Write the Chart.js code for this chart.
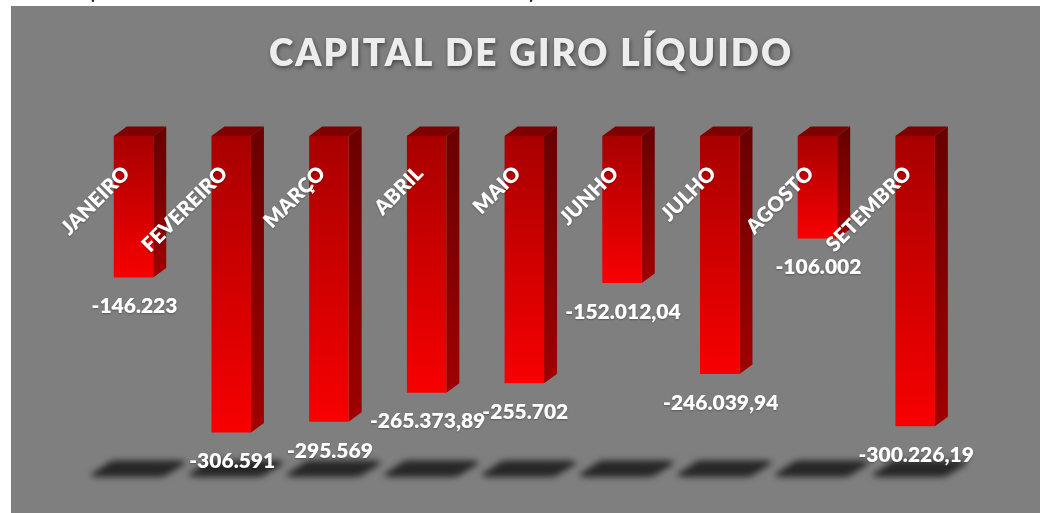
<!DOCTYPE html>
<html><head><meta charset="utf-8">
<style>html,body{margin:0;padding:0;background:#fff;overflow:hidden}#w{position:absolute;left:0;top:0;width:1048px;height:513px}</style>
<script src="https://cdn.jsdelivr.net/npm/chart.js@4"></script>
</head><body><div id="w"><canvas id="c" width="1048" height="513"></canvas></div>
<script>
const titleText = "CAPITAL DE GIRO LÍQUIDO";
const categories = ["JANEIRO","FEVEREIRO","MARÇO","ABRIL","MAIO","JUNHO","JULHO","AGOSTO","SETEMBRO"];
const values = [-146223,-306591,-295569,-265373.89,-255702,-152012.04,-246039.94,-106002,-300226.19];
const valueLabels = ["-146.223","-306.591","-295.569","-265.373,89","-255.702","-152.012,04","-246.039,94","-106.002","-300.226,19"];
const FONT = 'Lato, Carlito, sans-serif';
const DX = 13, DY = 9.5;

function grad(ctx, y0, y1, a, b){ const g = ctx.createLinearGradient(0,y0,0,y1); g.addColorStop(0,a); g.addColorStop(1,b); return g; }

const scene = {
  id:'scene',
  beforeDraw(chart){
    const c = chart.ctx;
    c.save();
    c.fillStyle = '#222';
    c.font = 'bold 20px ' + FONT;
    c.textAlign = 'center'; c.textBaseline = 'alphabetic';
    c.fillText('(', 92, -1);
    c.fillText(')', 532, -1);
    c.fillStyle = '#7f7f7f';
    c.fillRect(11,6,1029,507);
    c.fillStyle = '#ededed';
    c.font = '800 37px ' + FONT;
    c.letterSpacing = '2.05px';
    c.textBaseline = 'middle';
    c.shadowColor = 'rgba(0,0,0,0.45)'; c.shadowBlur = 4; c.shadowOffsetX = 1; c.shadowOffsetY = 2;
    c.fillText(titleText, 531, 54);
    c.restore();
  },
  beforeDatasetsDraw(chart){
    const c = chart.ctx, meta = chart.getDatasetMeta(0);
    meta.data.forEach(bar => {
      c.save();
      c.filter = 'blur(3px)';
      c.fillStyle = '#272727';
      const cx = bar.x + 5, t = 460.5, b = 477;
      c.beginPath();
      c.moveTo(cx-23,t); c.lineTo(cx+38,t); c.quadraticCurveTo(cx+52,t+1,cx+44,t+5);
      c.lineTo(cx+30,b-3); c.quadraticCurveTo(cx+26,b,cx+20,b);
      c.lineTo(cx-40,b); c.quadraticCurveTo(cx-53,b-1,cx-44,b-5);
      c.lineTo(cx-31,t+3); c.quadraticCurveTo(cx-28,t,cx-23,t);
      c.closePath(); c.fill();
      c.restore();
    });
    meta.data.forEach(bar => {
      const w = bar.width/2, L = bar.x-w, R = bar.x+w, T = bar.base, B = bar.y;
      c.save();
      c.fillStyle = '#7f0000';
      c.beginPath(); c.moveTo(L,T); c.lineTo(L+DX,T-DY); c.lineTo(R+DX,T-DY); c.lineTo(R,T); c.closePath(); c.fill();
      c.fillStyle = grad(c,T,B,'#6a0000','#a00000');
      c.beginPath(); c.moveTo(R,T); c.lineTo(R+DX,T-DY); c.lineTo(R+DX,B-DY); c.lineTo(R,B); c.closePath(); c.fill();
      c.restore();
    });
  },
  afterDatasetsDraw(chart){
    const c = chart.ctx, meta = chart.getDatasetMeta(0);
    meta.data.forEach((bar,i) => {
      c.save();
      c.fillStyle = '#fff';
      c.shadowColor = 'rgba(0,0,0,0.3)'; c.shadowBlur = 2; c.shadowOffsetY = 1;
      c.font = '800 21px ' + FONT;
      c.textAlign = 'center'; c.textBaseline = 'middle';
      c.fillText(valueLabels[i], bar.x+1, bar.y+29);
      c.translate(bar.x-7, bar.base+34);
      c.rotate(-Math.PI/4);
      c.font = '800 20.5px ' + FONT;
      c.textAlign = 'right';
      c.fillText(chart.data.labels[i], 0, 0);
      c.restore();
    });
  }
};

new Chart(document.getElementById('c'), {
  type:'bar',
  data:{ labels:categories, datasets:[{
    data:values,
    backgroundColor(ctx){
      const ch = ctx.chart;
      if(!ch.chartArea || ctx.dataIndex===undefined) return '#c00000';
      const y = ch.scales.y;
      return grad(ch.ctx, y.getPixelForValue(0), y.getPixelForValue(values[ctx.dataIndex]), '#a80000', '#f80000');
    },
    borderWidth:0,
    categoryPercentage:1,
    barPercentage:0.404
  }]},
  options:{
    responsive:false,
    animation:false,
    layout:{padding:{left:84.65,right:84,top:136,bottom:38.5}},
    plugins:{legend:{display:false},tooltip:{enabled:false},title:{display:false}},
    scales:{
      x:{display:false},
      y:{display:false,min:-350000,max:0}
    }
  },
  plugins:[scene]
});
</script></body></html>
